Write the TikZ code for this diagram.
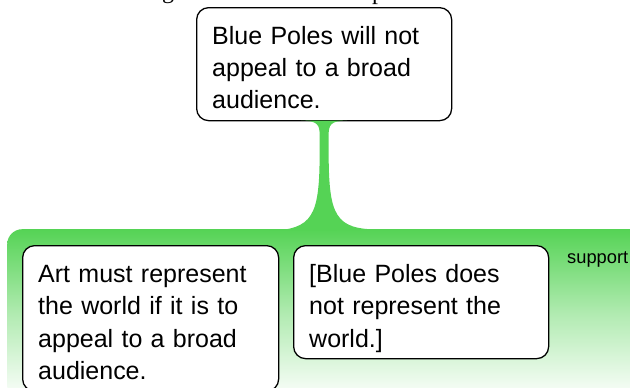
\documentclass[tikz,border=0pt]{standalone}
\usepackage{fontspec}
\setmainfont{Liberation Sans}
\newfontfamily\serifpart{Liberation Serif}
\usetikzlibrary{calc}
\definecolor{grp}{RGB}{85,211,85}
\begin{document}
\begin{tikzpicture}[x=1pt,y=-1pt,
  box/.style={draw=black, line width=1.3pt, rounded corners=12pt, fill=white,
    inner sep=0pt, anchor=north west},
  txt/.style={inner sep=0pt, anchor=base west, align=left, text width=250pt,
    font=\fontsize{25}{32.5}\selectfont},
  grpbox/.style={rounded corners=15pt, top color=grp, bottom color=white,
    middle color=grp!45!white, inner sep=0pt, anchor=north west},
  link/.style={fill=grp, draw=none},
  lbl/.style={inner sep=0pt, anchor=base west, font=\fontsize{18.3}{20}\selectfont},
  frag/.style={inner sep=0pt, anchor=base west, font=\serifpart\fontsize{24}{26}\selectfont}]
\useasboundingbox (0,0) rectangle (630,388);
% cut-off title fragments
\node[frag] (frag1) at (162,-1.2) {g};
\node[frag] (frag2) at (372,-0.2) {p};
% group region
\node[grpbox, minimum width=700pt, minimum height=172pt] (group) at (7,229) {};
% claim box
\node[box, minimum width=255pt, minimum height=113pt] (claim) at (196,7) {};
\node[txt] (claimtxt) at (212,44) {Blue Poles will not\\appeal to a broad\\audience.};
% connector
\coordinate (c) at (claim.south);
\fill[link] ($(c)+(-23,-0.7)$) .. controls ($(c)+(-6,-0.7)$) and ($(c)+(-4.5,4)$) .. ($(c)+(-4.5,14)$)
  -- ($(c)+(-4.5,30)$) .. controls ($(c)+(-4.5,95)$) and ($(c)+(-11,108)$) .. ($(c)+(-55,109.5)$)
  -- ($(c |- group.north)+(55,0.5)$)
  .. controls ($(c)+(11,108)$) and ($(c)+(4.5,95)$) .. ($(c)+(4.5,30)$)
  -- ($(c)+(4.5,14)$) .. controls ($(c)+(4.5,4)$) and ($(c)+(6,-0.7)$) .. ($(c)+(23,-0.7)$) -- cycle;
% premises
\node[box, minimum width=256pt, minimum height=145.5pt] (prem1) at (22,245) {};
\node[txt] (prem1txt) at (38,282) {Art must represent\\the world if it is to\\appeal to a broad\\audience.};
\node[box, minimum width=255pt, minimum height=113pt] (prem2) at (293,245) {};
\node[txt] (prem2txt) at (309,282) {[Blue Poles does\\not represent the\\world.]};
% label
\node[lbl] (support) at (567,263) {support};
\end{tikzpicture}
\end{document}
